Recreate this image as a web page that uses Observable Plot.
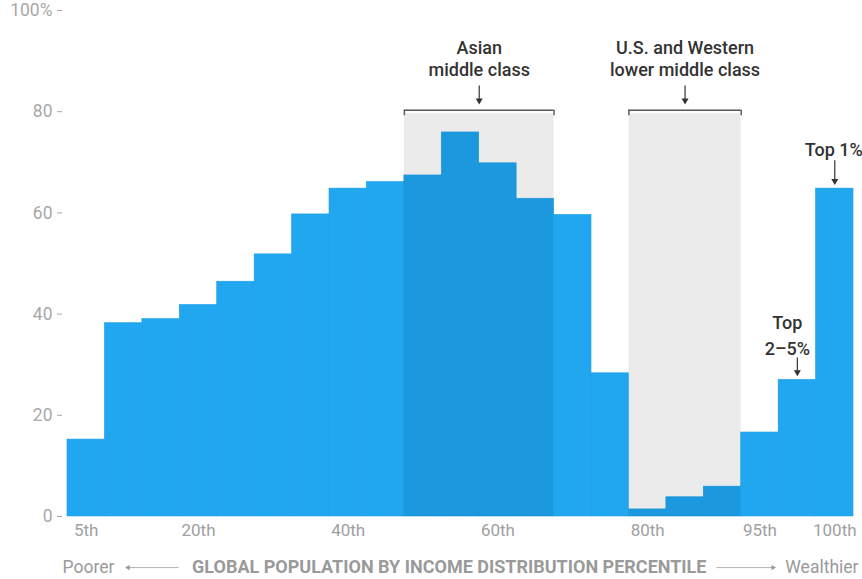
<!DOCTYPE html>
<html><head><meta charset="utf-8">
<script src="https://cdn.jsdelivr.net/npm/d3@7"></script>
<script src="https://cdn.jsdelivr.net/npm/@observablehq/plot@0.6"></script>
<style>body{margin:0;background:#fff;} #chart svg{display:block;}</style>
</head><body><div id="chart"></div>
<script>
// ---- data ----
const percentiles = ["5th","10th","15th","20th","25th","30th","35th","40th","45th","50th","55th","60th","65th","70th","75th","80th","85th","90th","95th","99th","100th"];
const incomeGrowth = [15.2,38.2,39.0,41.8,46.4,51.8,59.7,64.8,66.1,67.4,75.9,69.8,62.8,59.6,28.3,1.4,3.8,5.9,16.6,27.0,64.8];
const tickLabels = ["5th","20th","40th","60th","80th","95th","100th"];
const yTicks = [0,20,40,60,80,100];
const groupNames = ["Asian\nmiddle class","U.S. and Western\nlower middle class"];
const groupFrom = ["50th","80th"];
const groupTo = ["65th","90th"];
const calloutNames = ["Top\n2–5%","Top 1%"];
const calloutAt = ["99th","100th"];
const axisTitle = "GLOBAL POPULATION BY INCOME DISTRIBUTION PERCENTILE";
const leftLabel = "Poorer";
const rightLabel = "Wealthier";

// ---- derived tables ----
const idx = p => percentiles.indexOf(p);
const groups = groupNames.map((name, k) => ({name, i0: idx(groupFrom[k]), i1: idx(groupTo[k]) + 1}));
const inGroup = i => groups.some(g => i >= g.i0 && i < g.i1);
const bars = percentiles.map((p, i) => ({p, i, v: incomeGrowth[i], shaded: inGroup(i)}));
const callouts = calloutNames.map((name, k) => ({name, i: idx(calloutAt[k]), v: incomeGrowth[idx(calloutAt[k])], multi: name.includes("\n")}));
const groupEnds = groups.flatMap(g => [g.i0, g.i1]);

const FONT = "Roboto, 'Open Sans', sans-serif";
const SHADE_TOP = 79.6, BRACKET = 80.3, BRACKET_END = 79.2;
const BOTTOM_Y = -10.1;

const plot = Plot.plot({
  width: 862, height: 579,
  marginLeft: 62, marginRight: 9, marginTop: 10, marginBottom: 63,
  style: {fontFamily: FONT, background: "#fff"},
  x: {type: "linear", domain: [0, percentiles.length], insetLeft: 5, axis: null},
  y: {domain: [0, 100], axis: null},
  color: {type: "identity"},
  marks: [
    Plot.rectY(groups, {x1: "i0", x2: "i1", y1: 0, y2: SHADE_TOP, fill: "#ebebeb"}),
    Plot.rectY(bars, {x1: "i", x2: d => d.i + 1, y1: 0, y2: "v",
      fill: d => d.shaded ? "#1b98de" : "#21a7f0", stroke: d => d.shaded ? "#1a93d8" : "#1f9fe6", strokeWidth: 0.6}),
    // brackets
    Plot.ruleY(groups, {x1: "i0", x2: "i1", y: BRACKET, stroke: "#555", strokeWidth: 1.4}),
    Plot.ruleX(groupEnds, {x: d => d, y1: BRACKET_END, y2: BRACKET, stroke: "#555", strokeWidth: 1.4}),
    Plot.link(groups, {x1: d => (d.i0 + d.i1) / 2, x2: d => (d.i0 + d.i1) / 2, y1: 85.2, y2: 82.2, stroke: "#333", strokeWidth: 1.2}),
    Plot.dot(groups, {x: d => (d.i0 + d.i1) / 2, y: 82.2, symbol: "triangle", rotate: 180, r: 2.6, fill: "#333", stroke: "none"}),
    Plot.text(groups, {x: d => (d.i0 + d.i1) / 2, y: 90.6, text: "name", fontSize: 18, fill: "#333", lineHeight: 1.22, fontWeight: 500}),
    // callouts
    Plot.link(callouts, {x1: d => d.i + 0.5, x2: d => d.i + 0.5, y1: d => d.v + (d.multi ? 4.4 : 5.6), y2: d => d.v + 1.5, stroke: "#333", strokeWidth: 1.2}),
    Plot.dot(callouts, {x: d => d.i + 0.5, y: d => d.v + 1.5, symbol: "triangle", rotate: 180, r: 2.6, fill: "#333", stroke: "none"}),
    Plot.text(callouts.filter(d => d.multi), {x: d => d.i + 0.5, y: d => d.v + 4.4, dx: -10, dy: -3, lineAnchor: "bottom", text: "name", fontSize: 18, fill: "#333", lineHeight: 1.45, fontWeight: 500}),
    Plot.text(callouts.filter(d => !d.multi), {x: d => d.i + 0.5, y: d => d.v + 5.6, dx: -1, dy: -4, lineAnchor: "bottom", text: "name", fontSize: 18, fill: "#333", fontWeight: 500}),
    // axes
    Plot.axisY({ticks: yTicks, tickFormat: d => d === 100 ? "100%" : String(d), tickSize: 5, tickPadding: 5, fontSize: 17.5, color: "#a8a8a8", label: null}),
    Plot.axisX({ticks: tickLabels.map(t => idx(t) + 0.5), tickFormat: d => percentiles[Math.round(d - 0.5)], tickSize: 0, tickPadding: 7, fontSize: 17, color: "#a0a0a0", label: null}),
    // bottom title row
    Plot.text([axisTitle], {x: 10.2, y: BOTTOM_Y, text: d => d, fontSize: 18, fontWeight: "bold", fill: "#9a9a9a"}),
    Plot.text([leftLabel], {x: 0, y: BOTTOM_Y, dx: -5, text: d => d, textAnchor: "start", fontSize: 17.5, fill: "#9a9a9a"}),
    Plot.text([rightLabel], {x: percentiles.length, y: BOTTOM_Y, dx: 5, text: d => d, textAnchor: "end", fontSize: 17.5, fill: "#9a9a9a"}),
    Plot.link([[2.97, 1.62], [17.34, 18.85]], {x1: d => d[0], x2: d => d[1], y1: BOTTOM_Y, y2: BOTTOM_Y, stroke: "#b0b0b0", strokeWidth: 1}),
    Plot.dot([1.62, 18.85], {x: d => d, y: BOTTOM_Y, symbol: "triangle", rotate: d => d < 10 ? -90 : 90, r: 2, fill: "#999", stroke: "none"})
  ]
});
document.getElementById("chart").append(plot);
</script>
</body></html>
